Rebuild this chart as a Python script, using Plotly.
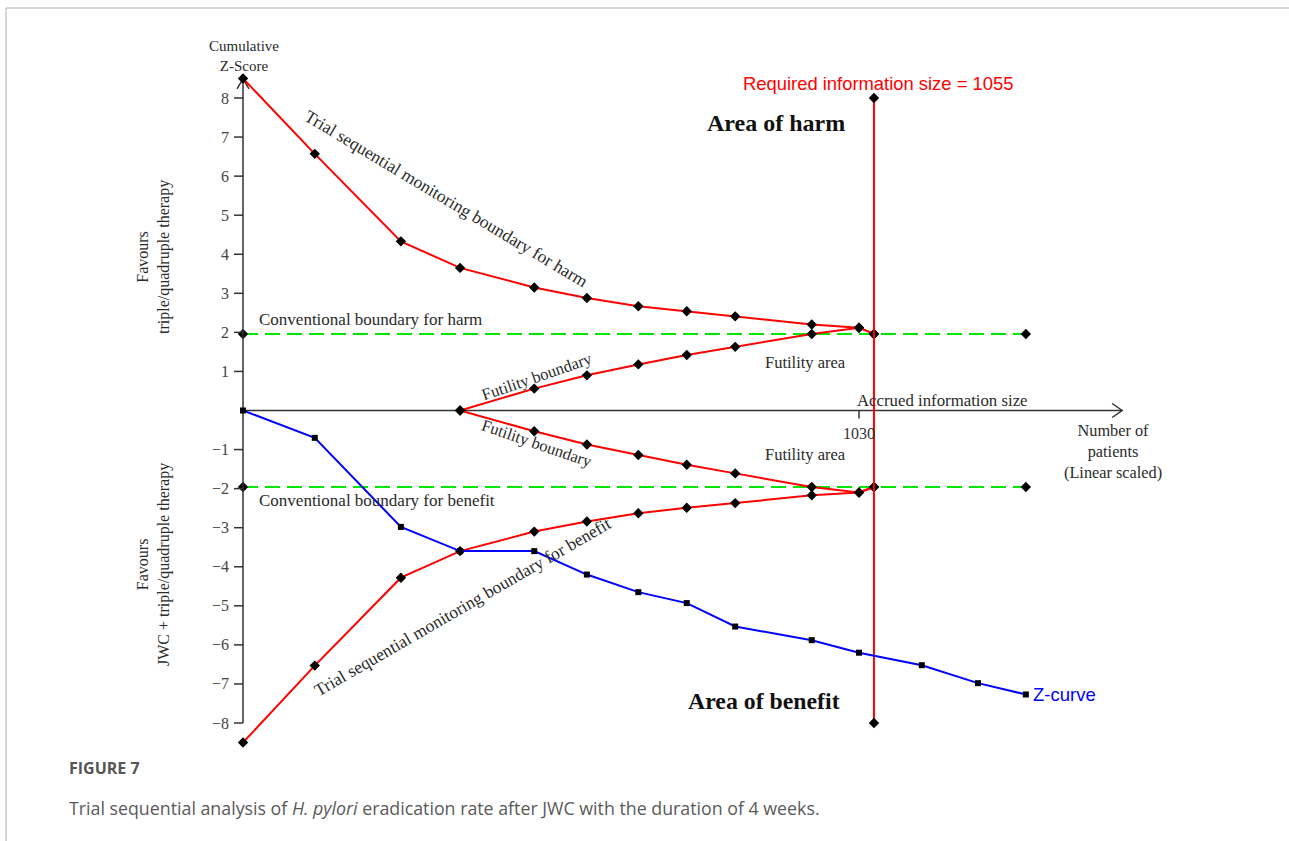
import plotly.graph_objects as go

W, H = 1289, 841

# Cumulative number of patients at each interim look
patients = [0, 120, 264, 363, 487, 575, 661, 742, 823, 951, 1030, 1055]
harm_boundary = [8.5, 6.57, 4.33, 3.65, 3.15, 2.88, 2.67, 2.54, 2.41, 2.20, 2.12, 1.96]
benefit_boundary = [-8.5, -6.53, -4.28, -3.60, -3.10, -2.84, -2.63, -2.49, -2.37, -2.17, -2.10, -1.96]

# Inner wedge (futility boundaries)
futility_patients = [363, 487, 575, 661, 742, 823, 951, 1030, 1055]
futility_upper = [0, 0.56, 0.90, 1.18, 1.42, 1.63, 1.96, 2.12, 1.96]
futility_lower = [0, -0.53, -0.87, -1.14, -1.39, -1.61, -1.96, -2.10, -1.96]

# Cumulative Z-curve
z_patients = [0, 120, 264, 363, 487, 575, 661, 742, 823, 951, 1030, 1135, 1229, 1309]
z_curve = [0, -0.70, -2.98, -3.60, -3.60, -4.20, -4.65, -4.93, -5.53, -5.88, -6.20, -6.52, -6.98, -7.27]

conventional_z = 1.96
conventional_span = [0, 1309]
required_info_size = 1055
accrued_info_size = 1030
ris_span = [-8, 8]
axis_end = 1470

y_tick_values = [8, 7, 6, 5, 4, 3, 2, 1, -1, -2, -3, -4, -5, -6, -7, -8]
y_tick_labels = ["8", "7", "6", "5", "4", "3", "2", "1",
                 "\u22121", "\u22122", "\u22123", "\u22124", "\u22125", "\u22126", "\u22127", "\u22128"]

# Scale: pixels per patient / per Z unit, origin location on the page
ORIGIN_X, ORIGIN_Y = 243, 410.5
PX_PER_N = 616 / 1030
PX_PER_Z = 39.0625

x_range = [-ORIGIN_X / PX_PER_N, (W - ORIGIN_X) / PX_PER_N]
y_range = [-(H - ORIGIN_Y) / PX_PER_Z, ORIGIN_Y / PX_PER_Z]


def dx(px):
    return px / PX_PER_N


def dy(px):
    return px / PX_PER_Z


def paper(px, py):
    return px / W, 1 - py / H


SERIF = "Liberation Serif, Times New Roman, serif"
SANS = "Liberation Sans, Arial, sans-serif"
CAPTION_FONT = "Open Sans, sans-serif"
TXT = "#2a2a2a"
RED = "#ff0000"
BLUE = "#0000ff"
GREEN = "#00e600"

fig = go.Figure()

# Conventional boundaries (dashed green)
for sign in (1, -1):
    fig.add_trace(go.Scatter(
        x=conventional_span, y=[sign * conventional_z] * 2, mode="lines+markers",
        line=dict(color=GREEN, width=2, dash="15px,7px"),
        marker=dict(symbol="diamond", size=8, color="black"),
        hoverinfo="skip", showlegend=False))

# Axes (drawn manually, with arrow heads)
axis_style = dict(color="#333333", width=1.5)
fig.add_trace(go.Scatter(x=[0, 0], y=[-8, 8.49], mode="lines", line=axis_style,
                         hoverinfo="skip", showlegend=False))
fig.add_trace(go.Scatter(x=[-dx(6), 0, dx(6)], y=[8.49 - dy(10), 8.49, 8.49 - dy(10)],
                         mode="lines", line=axis_style, hoverinfo="skip", showlegend=False))
fig.add_trace(go.Scatter(x=[0, axis_end], y=[0, 0], mode="lines", line=axis_style,
                         hoverinfo="skip", showlegend=False))
fig.add_trace(go.Scatter(x=[axis_end - dx(10), axis_end, axis_end - dx(10)],
                         y=[dy(7), 0, -dy(7)], mode="lines", line=axis_style,
                         hoverinfo="skip", showlegend=False))

# y ticks and labels
for v, lab in zip(y_tick_values, y_tick_labels):
    fig.add_shape(type="line", x0=-dx(9), x1=0, y0=v, y1=v, xref="x", yref="y",
                  line=dict(color="#333333", width=1.5))
    fig.add_annotation(x=-dx(12), y=v, text=lab, showarrow=False, xanchor="right",
                       yanchor="middle", font=dict(family=SERIF, size=16, color="#444444"))

# x tick at accrued information size
fig.add_shape(type="line", x0=accrued_info_size, x1=accrued_info_size, y0=0, y1=-dy(8),
              xref="x", yref="y", line=dict(color="#333333", width=1.5))
fig.add_annotation(x=accrued_info_size, y=-dy(23), text=str(accrued_info_size), showarrow=False,
                   xanchor="center", yanchor="middle",
                   font=dict(family=SERIF, size=16, color="#333333"))

# Monitoring boundaries (red)
red_line = dict(color=RED, width=2)
diamonds = dict(symbol="diamond", size=8, color="black")
fig.add_trace(go.Scatter(x=patients, y=harm_boundary, mode="lines+markers", line=red_line,
                         marker=diamonds, hoverinfo="skip", showlegend=False))
fig.add_trace(go.Scatter(x=patients, y=benefit_boundary, mode="lines+markers", line=red_line,
                         marker=diamonds, hoverinfo="skip", showlegend=False))
fig.add_trace(go.Scatter(x=futility_patients, y=futility_upper, mode="lines+markers", line=red_line,
                         marker=diamonds, hoverinfo="skip", showlegend=False))
fig.add_trace(go.Scatter(x=futility_patients, y=futility_lower, mode="lines+markers", line=red_line,
                         marker=diamonds, hoverinfo="skip", showlegend=False))

# Required information size
fig.add_trace(go.Scatter(x=[required_info_size] * 2, y=ris_span, mode="lines+markers",
                         line=red_line, marker=diamonds, hoverinfo="skip", showlegend=False))

# Z-curve (blue)
fig.add_trace(go.Scatter(x=z_patients, y=z_curve, mode="lines+markers",
                         line=dict(color=BLUE, width=2),
                         marker=dict(symbol="square", size=6, color="black"),
                         hoverinfo="skip", showlegend=False))


def label(px, py, text, size=14, family=SERIF, color=TXT, xanchor="left", angle=0, bold=False):
    x, y = paper(px, py)
    if bold:
        text = "<b>" + text + "</b>"
    fig.add_annotation(x=x, y=y, xref="paper", yref="paper", text=text, showarrow=False,
                       xanchor=xanchor, yanchor="middle", textangle=angle,
                       font=dict(family=family, size=size, color=color))


label(244, 55.5, "Cumulative<br>Z-Score", size=15, xanchor="center")
label(153, 257, "Favours<br>triple/quadruple therapy", size=16, xanchor="center", angle=-90)
label(153, 565, "Favours<br>JWC + triple/quadruple therapy", size=16, xanchor="center", angle=-90)
label(447, 199, "Trial sequential monitoring boundary for harm", size=17.5, xanchor="center", angle=31)
label(462, 607, "Trial sequential monitoring boundary for benefit", size=17.5, xanchor="center", angle=-30)
label(257, 319, "Conventional boundary for harm", size=17)
label(257, 500, "Conventional boundary for benefit", size=17)
label(537, 376, "Futility boundary", size=16.5, xanchor="center", angle=-19)
label(537, 444, "Futility boundary", size=16.5, xanchor="center", angle=19)
label(763, 362, "Futility area", size=16.5)
label(763, 455, "Futility area", size=16.5)
label(855, 400, "Accrued information size", size=16.8)
label(1113, 451, "Number of<br>patients<br>(Linear scaled)", size=16.3, xanchor="center")
label(705, 123, "Area of harm", size=24, color="#111111", bold=True)
label(686, 701, "Area of benefit", size=23.8, color="#111111", bold=True)
label(741, 84, "Required information size = 1055", size=18.4, family=SANS, color=RED)
label(1031, 694, "Z-curve", size=18.5, family=SANS, color=BLUE)

# Caption
label(67, 768, "FIGURE 7", size=16, family=CAPTION_FONT, color="#555555", bold=True)
label(67, 808, "Trial sequential analysis of <i>H. pylori</i> eradication rate after JWC "
               "with the duration of 4 weeks.", size=17.8, family=CAPTION_FONT,
      color="#5a5a5a")

# Figure frame
fx0, fy0 = paper(6, 8)
fig.add_shape(type="line", xref="paper", yref="paper", x0=fx0, x1=1.0, y0=fy0, y1=fy0,
              line=dict(color="#c8c8c8", width=1.5))
fig.add_shape(type="line", xref="paper", yref="paper", x0=fx0, x1=fx0, y0=fy0, y1=0,
              line=dict(color="#c8c8c8", width=1.5))

fig.update_layout(
    width=W, height=H, margin=dict(l=0, r=0, t=0, b=0),
    paper_bgcolor="white", plot_bgcolor="white",
    xaxis=dict(range=x_range, visible=False, fixedrange=True),
    yaxis=dict(range=y_range, visible=False, fixedrange=True),
    showlegend=False,
)

fig.write_html("out.html")
